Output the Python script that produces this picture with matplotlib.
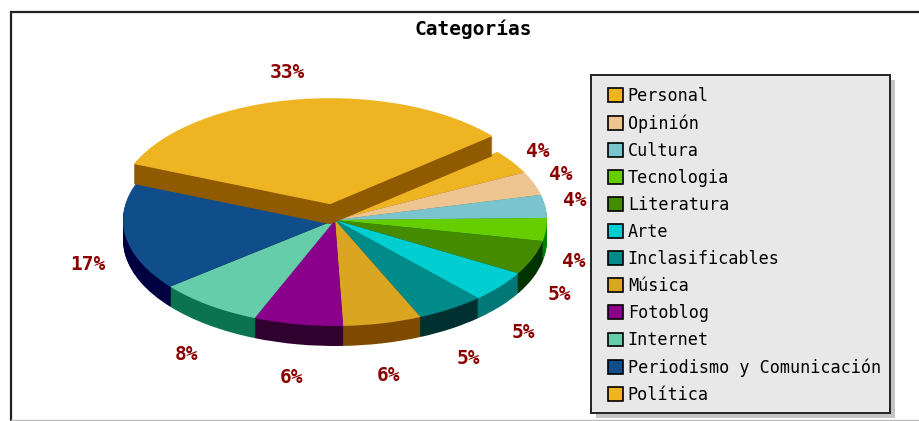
import numpy as np
import matplotlib
matplotlib.use('Agg')
import matplotlib.pyplot as plt
from matplotlib.patches import Patch, Rectangle

categories = ['Personal', 'Opinión', 'Cultura', 'Tecnologia', 'Literatura', 'Arte',
              'Inclasificables', 'Música', 'Fotoblog', 'Internet',
              'Periodismo y Comunicación', 'Política']
values = [3.7, 3.6, 3.5, 3.5, 5.2, 4.8, 5.2, 6.0, 6.8, 8.0, 17.0, 32.7]
percent_labels = ['4%', '4%', '4%', '4%', '5%', '5%', '5%', '6%', '6%', '8%', '17%', '33%']
colors = ['#eeb422', '#eec591', '#7ac5cd', '#66cd00', '#458b00', '#00ced1',
          '#008b8b', '#daa520', '#8b008b', '#66cdaa', '#104e8b', '#eeb422']
wall_colors = ['#8f5a00', '#8f7040', '#407078', '#008000', '#003300', '#007878',
               '#003030', '#7f4a00', '#30002e', '#0b7350', '#000040', '#8f5a00']

W, H = 919, 421
cx, cy, radius = 335, 220, 212
depth = 20
explode = [0] * 11 + [32]  # pie adds this in data units

# small pixel nudges for the percent labels (x right, y down)
label_nudges = [(1, 6), (-1, 1), (0, -2), (-2, 9), (-2, 6), (0, 7),
                (1, 5), (-1, 3), (-1, 4), (-4, 5), (-8, 5), (-5, 3)]

plt.rcParams['font.family'] = ['DejaVu Sans Mono']

fig = plt.figure(figsize=(W / 100, H / 100), dpi=100)
ax = fig.add_axes([0, 0, 1, 1])

# y runs at twice the pixel scale, so a round pie comes out as a flat ellipse
def py(y):
    return (H - y) * 2

for d in range(depth, 0, -1):
    wedges, _ = ax.pie(values, colors=wall_colors, startangle=40, counterclock=False,
                       radius=radius, center=(cx, py(cy + d)), explode=explode,
                       wedgeprops={'linewidth': 0})
    wedges[-1].set_zorder(3)
    for w in wedges[:-1]:
        w.set_zorder(1)

top, _ = ax.pie(values, colors=colors, startangle=40, counterclock=False,
                radius=radius, center=(cx, py(cy)), explode=explode,
                wedgeprops={'linewidth': 0})
top[-1].set_zorder(4)
for w in top[:-1]:
    w.set_zorder(2)

ax.set_aspect('auto')
ax.set_xlim(0, W)
ax.set_ylim(0, H * 2)
ax.axis('off')

# labels sit a fixed distance outside the rim, below the wall on the front half
for w, lab, (nx, ny) in zip(top, percent_labels, label_nudges):
    a = np.deg2rad((w.theta1 + w.theta2) / 2)
    x = w.center[0] + radius * np.cos(a)
    y = w.center[1] + radius * np.sin(a)
    dx = 30 * np.cos(a) + nx
    dy = 30 * np.sin(a) - (depth if np.sin(a) < 0 else 0) - ny
    ax.annotate(lab, (x, y), xytext=(dx, dy), textcoords='offset pixels',
                ha='center', va='center', color='#8b0000', fontsize=14,
                fontweight='bold', zorder=5)

fig.text(473 / W, 1 - 29 / H, 'Categorías', ha='center', va='center',
         fontsize=14, fontweight='bold', color='black')

# outer frame of the image
ax.plot([10.5, 10.5, W], [0, py(11.5), py(11.5)], color='#222222', lw=1.6, zorder=6,
        solid_joinstyle='miter')
ax.plot([10.5, W], [py(420), py(420)], color='#bbbbbb', lw=1, zorder=6)

# legend box and its shadow
fig.add_artist(Rectangle((596 / W, 1 - 418 / H), 299 / W, 338 / H, transform=fig.transFigure,
                         facecolor='#c4c4c4', edgecolor='none'))
fig.add_artist(Rectangle((591 / W, 1 - 413 / H), 299 / W, 338 / H, transform=fig.transFigure,
                         facecolor='#e8e8e8', edgecolor='#222222', linewidth=1.4))

handles = [Patch(facecolor=c, edgecolor='black', linewidth=1.2) for c in colors]
leg = fig.legend(handles, categories, loc='upper left',
                 bbox_to_anchor=(608 / W, 1 - 87 / H), bbox_transform=fig.transFigure,
                 fontsize=12.1, frameon=False, borderaxespad=0, borderpad=0,
                 labelspacing=0.54, handlelength=0.88, handleheight=0.88,
                 handletextpad=0.3)

fig.savefig('out.png', dpi=100)
